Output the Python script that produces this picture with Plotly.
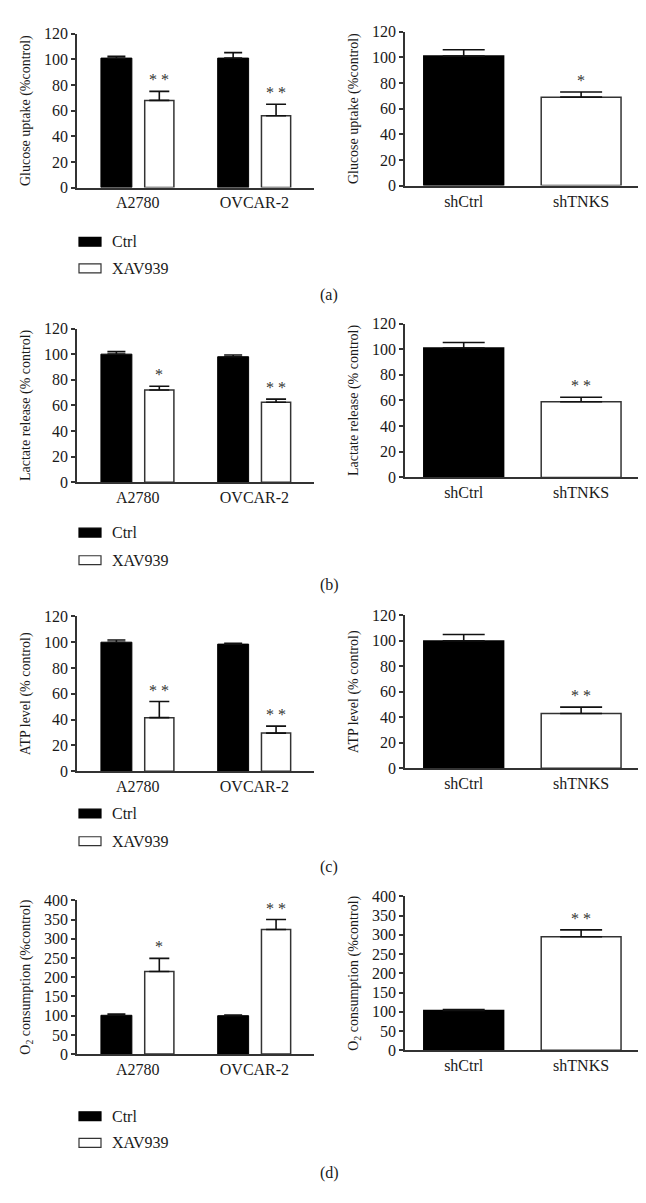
import plotly.graph_objects as go

W, H = 646, 1203

# ---------------- data ----------------
cell_lines = ["A2780", "OVCAR-2"]
sh_groups = ["shCtrl", "shTNKS"]
treatments = ["Ctrl", "XAV939"]
panel_labels = ["(a)", "(b)", "(c)", "(d)"]

y_titles = [
    "Glucose uptake (%control)",
    "Lactate release (% control)",
    "ATP level (% control)",
    "O<sub>2</sub> consumption (%control)",
]
ticks_pct = [0, 20, 40, 60, 80, 100, 120]
ticks_o2 = [0, 50, 100, 150, 200, 250, 300, 350, 400]

# (a) glucose uptake
glucose_ctrl = [101, 101]
glucose_ctrl_err = [1.5, 4.3]
glucose_xav = [68, 56]
glucose_xav_err = [7, 9]
glucose_xav_sig = ["* *", "* *"]
glucose_sh = [101, 69]
glucose_sh_err = [5, 4]
glucose_sh_sig = ["", "*"]

# (b) lactate release
lactate_ctrl = [100, 98]
lactate_ctrl_err = [2, 1.3]
lactate_xav = [72, 62.5]
lactate_xav_err = [3, 2.4]
lactate_xav_sig = ["*", "* *"]
lactate_sh = [101, 59]
lactate_sh_err = [4.3, 3.5]
lactate_sh_sig = ["", "* *"]

# (c) ATP level
atp_ctrl = [100, 98.5]
atp_ctrl_err = [1.7, 0.6]
atp_xav = [41.5, 29.5]
atp_xav_err = [12.5, 5.4]
atp_xav_sig = ["* *", "* *"]
atp_sh = [100, 43]
atp_sh_err = [5, 5]
atp_sh_sig = ["", "* *"]

# (d) O2 consumption
o2_ctrl = [101, 100]
o2_ctrl_err = [3, 1.5]
o2_xav = [215, 324]
o2_xav_err = [34, 26]
o2_xav_sig = ["*", "* *"]
o2_sh = [103, 295]
o2_sh_err = [2.5, 18]
o2_sh_sig = ["", "* *"]

ctrl_vals = [glucose_ctrl, lactate_ctrl, atp_ctrl, o2_ctrl]
ctrl_errs = [glucose_ctrl_err, lactate_ctrl_err, atp_ctrl_err, o2_ctrl_err]
xav_vals = [glucose_xav, lactate_xav, atp_xav, o2_xav]
xav_errs = [glucose_xav_err, lactate_xav_err, atp_xav_err, o2_xav_err]
xav_sigs = [glucose_xav_sig, lactate_xav_sig, atp_xav_sig, o2_xav_sig]
sh_vals = [glucose_sh, lactate_sh, atp_sh, o2_sh]
sh_errs = [glucose_sh_err, lactate_sh_err, atp_sh_err, o2_sh_err]
sh_sigs = [glucose_sh_sig, lactate_sh_sig, atp_sh_sig, o2_sh_sig]
y_ranges = [[0, 120], [0, 120], [0, 120], [0, 400]]
y_tickvals = [ticks_pct, ticks_pct, ticks_pct, ticks_o2]

# ---------------- layout geometry (pixels) ----------------
FONT = "Liberation Serif"
INK = "#1a1a1a"
AX = "#333333"
left_x = (69, 306)
right_x = (397, 633)
left_rows = [(18, 174), (317, 473), (609, 766), (897, 1053)]
right_rows = [(16, 172), (312, 468), (608, 763), (893, 1049)]
legend_rows = [(229, 256), (524, 552), (809, 837), (1116, 1143)]
label_rows = [283, 577, 863, 1174]

CTRL_OFF, CTRL_W = -0.315, 0.265
XAV_OFF, XAV_W = 0.06, 0.25


def px_x(p):
    return p / W


def px_y(p):
    return 1 - p / H


fig = go.Figure()
layout = dict(
    width=W, height=H,
    margin=dict(l=0, r=0, t=0, b=0),
    paper_bgcolor="white", plot_bgcolor="white",
    barmode="overlay", showlegend=False,
    font=dict(family=FONT, color=INK),
)
annotations = []
shapes = []


def err(arr, cap):
    return dict(type="data", array=arr, arrayminus=[0] * len(arr),
                symmetric=False, color="#111111", thickness=1.6, width=cap,
                visible=True)


def axes(idx, xdom, ydom, cats, xr, yr, tv, title):
    xa = dict(domain=[px_x(xdom[0]), px_x(xdom[1])], anchor=f"y{idx}",
              type="category", categoryarray=cats, range=xr,
              showline=True, linecolor=AX, linewidth=1.5, ticks="",
              showgrid=False, zeroline=False, fixedrange=True,
              tickfont=dict(size=16, family=FONT, color=INK))
    ya = dict(domain=[px_y(ydom[1]), px_y(ydom[0])], anchor=f"x{idx}",
              range=yr, tickvals=tv, ticks="outside", ticklen=4,
              tickwidth=1.5, tickcolor=AX, showline=True, linecolor=AX,
              linewidth=1.5, showgrid=False, zeroline=False, fixedrange=True,
              tickfont=dict(size=16, family=FONT, color=INK),
              title=dict(text=title, standoff=10,
                         font=dict(size=14, family=FONT, color=INK)))
    key = "" if idx == 1 else str(idx)
    layout["xaxis" + key] = xa
    layout["yaxis" + key] = ya


for r in range(4):
    li = 2 * r + 1
    ri = 2 * r + 2
    ax_l = "" if li == 1 else str(li)
    # left panel: cell lines, Ctrl vs XAV939
    axes(li, left_x, left_rows[r], cell_lines, [-0.52, 1.51], y_ranges[r],
         y_tickvals[r], y_titles[r])
    fig.add_trace(go.Bar(
        x=cell_lines, y=ctrl_vals[r], name=treatments[0],
        width=CTRL_W, offset=CTRL_OFF,
        marker=dict(color="black", line=dict(color="black", width=1)),
        error_y=err(ctrl_errs[r], 9), xaxis=f"x{ax_l}", yaxis=f"y{ax_l}"))
    fig.add_trace(go.Bar(
        x=cell_lines, y=xav_vals[r], name=treatments[1],
        width=XAV_W, offset=XAV_OFF,
        marker=dict(color="white", line=dict(color=AX, width=1.5)),
        error_y=err(xav_errs[r], 10), xaxis=f"x{ax_l}", yaxis=f"y{ax_l}"))
    for i, s in enumerate(xav_sigs[r]):
        if s:
            annotations.append(dict(
                x=i + XAV_OFF + XAV_W / 2, y=xav_vals[r][i] + xav_errs[r][i],
                xref=f"x{ax_l}", yref=f"y{ax_l}", text=s, showarrow=False,
                yanchor="bottom", yshift=1,
                font=dict(size=16, family=FONT, color=AX)))

    # right panel: shCtrl vs shTNKS
    axes(ri, right_x, right_rows[r], sh_groups, [-0.5, 1.51], y_ranges[r],
         y_tickvals[r], y_titles[r])
    fig.add_trace(go.Bar(
        x=sh_groups, y=sh_vals[r], width=0.68,
        marker=dict(color=["black", "white"],
                    line=dict(color=["black", AX], width=1.5)),
        error_y=err(sh_errs[r], 21), xaxis=f"x{ri}", yaxis=f"y{ri}"))
    for i, s in enumerate(sh_sigs[r]):
        if s:
            annotations.append(dict(
                x=sh_groups[i], y=sh_vals[r][i] + sh_errs[r][i],
                xref=f"x{ri}", yref=f"y{ri}", text=s, showarrow=False,
                yanchor="bottom", yshift=1,
                font=dict(size=16, family=FONT, color=AX)))

    # legend (swatches + labels)
    for k, name in enumerate(treatments):
        yc = legend_rows[r][k]
        shapes.append(dict(
            type="rect", xref="paper", yref="paper",
            x0=px_x(71), x1=px_x(93), y0=px_y(yc + 4.5), y1=px_y(yc - 4.5),
            fillcolor="black" if k == 0 else "white",
            line=dict(color="black" if k == 0 else AX, width=1.2)))
        annotations.append(dict(
            x=px_x(102), y=px_y(yc), xref="paper", yref="paper", text=name,
            showarrow=False, xanchor="left", yanchor="middle",
            font=dict(size=16, family=FONT, color=INK)))

    # panel label
    annotations.append(dict(
        x=px_x(321), y=px_y(label_rows[r]), xref="paper", yref="paper",
        text=panel_labels[r], showarrow=False, xanchor="center",
        yanchor="middle", font=dict(size=16, family=FONT, color=INK)))

layout["annotations"] = annotations
layout["shapes"] = shapes
fig.update_layout(**layout)
fig.write_html("out.html")
